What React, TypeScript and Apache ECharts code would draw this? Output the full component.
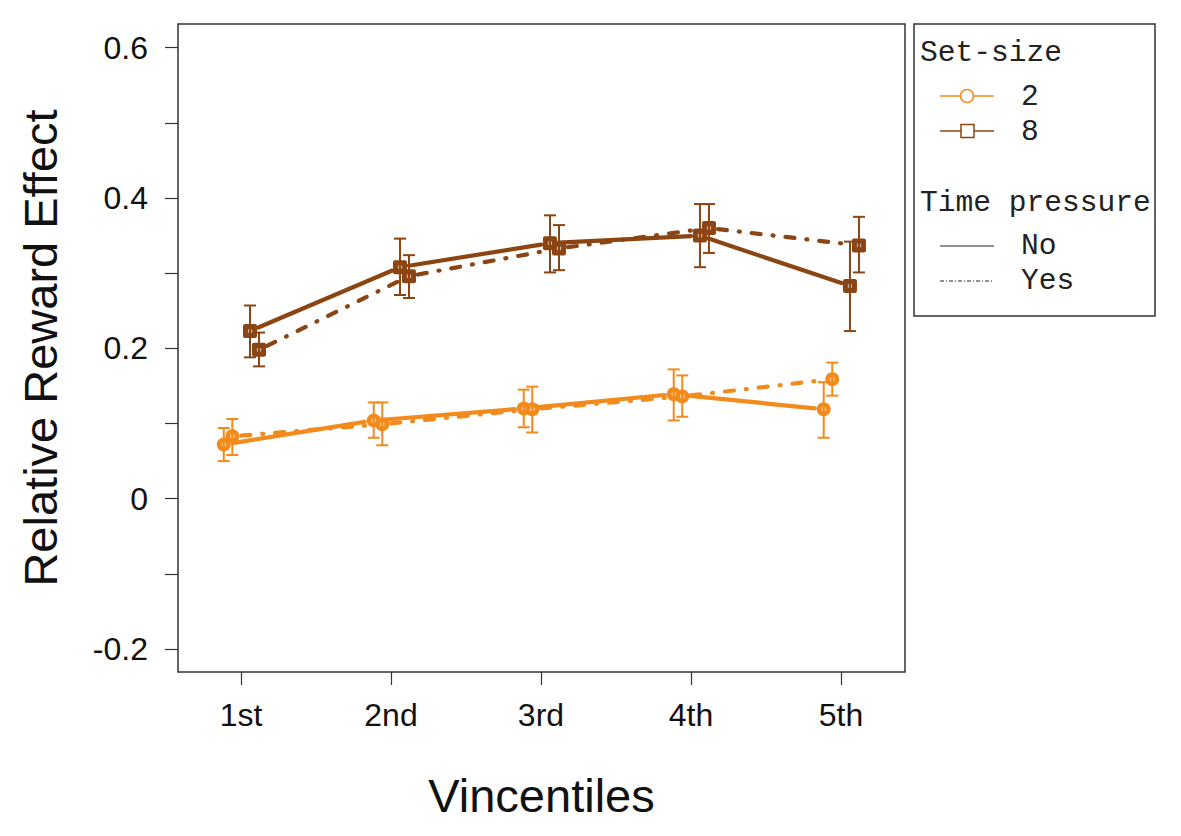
import React, { useEffect, useRef } from "react";
import * as echarts from "echarts";

const xCategories = ["1st", "2nd", "3rd", "4th", "5th"];
const xPositions = [1, 2, 3, 4, 5];
const yLabelTicks = [-0.2, 0, 0.2, 0.4, 0.6];
const yAllTicks = [-0.2, -0.1, 0, 0.1, 0.2, 0.3, 0.4, 0.5, 0.6];

// Set-size 2, no time pressure
const ss2NoMean = [0.072, 0.104, 0.12, 0.139, 0.119];
const ss2NoLow = [0.05, 0.081, 0.095, 0.104, 0.081];
const ss2NoHigh = [0.094, 0.128, 0.145, 0.172, 0.155];
// Set-size 2, time pressure
const ss2YesMean = [0.083, 0.099, 0.119, 0.136, 0.159];
const ss2YesLow = [0.058, 0.071, 0.088, 0.109, 0.137];
const ss2YesHigh = [0.106, 0.128, 0.149, 0.164, 0.181];
// Set-size 8, no time pressure
const ss8NoMean = [0.223, 0.308, 0.34, 0.35, 0.283];
const ss8NoLow = [0.188, 0.271, 0.301, 0.308, 0.223];
const ss8NoHigh = [0.257, 0.346, 0.377, 0.392, 0.342];
// Set-size 8, time pressure
const ss8YesMean = [0.198, 0.296, 0.333, 0.36, 0.337];
const ss8YesLow = [0.176, 0.267, 0.304, 0.327, 0.301];
const ss8YesHigh = [0.221, 0.324, 0.364, 0.392, 0.375];

const ORANGE = "#F28A1C";
const BROWN = "#8B4513";

type Group = {
  name: string;
  mean: number[];
  low: number[];
  high: number[];
  color: string;
  dashed: boolean;
  shape: "circle" | "square";
  offset: number;
};

const groups: Group[] = [
  { name: "2 / No", mean: ss2NoMean, low: ss2NoLow, high: ss2NoHigh, color: ORANGE, dashed: false, shape: "circle", offset: -0.115 },
  { name: "2 / Yes", mean: ss2YesMean, low: ss2YesLow, high: ss2YesHigh, color: ORANGE, dashed: true, shape: "circle", offset: -0.058 },
  { name: "8 / No", mean: ss8NoMean, low: ss8NoLow, high: ss8NoHigh, color: BROWN, dashed: false, shape: "square", offset: 0.06 },
  { name: "8 / Yes", mean: ss8YesMean, low: ss8YesLow, high: ss8YesHigh, color: BROWN, dashed: true, shape: "square", offset: 0.12 },
];

function lineSeries(g: Group): any {
  const data: number[][] = [];
  for (let i = 0; i < g.mean.length - 1; i++) {
    data.push([xPositions[i] + g.offset, g.mean[i], xPositions[i + 1] + g.offset, g.mean[i + 1]]);
  }
  return {
    type: "custom",
    name: g.name + " line",
    data,
    encode: { x: [0, 2], y: [1, 3] },
    renderItem: (params: any, api: any) => {
      const p1 = api.coord([api.value(0), api.value(1)]);
      const p2 = api.coord([api.value(2), api.value(3)]);
      const dx = p2[0] - p1[0];
      const dy = p2[1] - p1[1];
      const len = Math.hypot(dx, dy);
      const gap = 9;
      const ux = dx / len;
      const uy = dy / len;
      return {
        type: "line",
        shape: { x1: p1[0] + ux * gap, y1: p1[1] + uy * gap, x2: p2[0] - ux * gap, y2: p2[1] - uy * gap },
        style: {
          stroke: g.color,
          lineWidth: 4.2,
          lineCap: "round",
          lineDash: g.dashed ? [9, 12, 1, 12] : null,
        },
      };
    },
  };
}

function pointSeries(g: Group): any {
  const data = g.mean.map((m, i) => [xPositions[i] + g.offset, m, g.low[i], g.high[i]]);
  return {
    type: "custom",
    name: g.name + " points",
    data,
    z: 5,
    encode: { x: 0, y: [1, 2, 3] },
    renderItem: (params: any, api: any) => {
      const x = api.value(0);
      const c = api.coord([x, api.value(1)]);
      const lo = api.coord([x, api.value(2)]);
      const hi = api.coord([x, api.value(3)]);
      const cap = 6;
      const es = { stroke: g.color, lineWidth: 2 };
      const children: any[] = [
        { type: "line", shape: { x1: lo[0], y1: lo[1], x2: hi[0], y2: hi[1] }, style: es },
        { type: "line", shape: { x1: lo[0] - cap, y1: lo[1], x2: lo[0] + cap, y2: lo[1] }, style: es },
        { type: "line", shape: { x1: hi[0] - cap, y1: hi[1], x2: hi[0] + cap, y2: hi[1] }, style: es },
      ];
      if (g.shape === "circle") {
        children.push({ type: "circle", shape: { cx: c[0], cy: c[1], r: 7 }, style: { fill: g.color } });
      } else {
        children.push({ type: "rect", shape: { x: c[0] - 7, y: c[1] - 7, width: 14, height: 14, r: 2 }, style: { fill: g.color } });
      }
      const ws = { stroke: "#ffffff", lineWidth: 0.8, opacity: 0.85 };
      children.push({ type: "line", shape: { x1: c[0] - 1.6, y1: c[1] - 1.8, x2: c[0] - 1.6, y2: c[1] + 1.8 }, style: ws });
      children.push({ type: "line", shape: { x1: c[0] + 1.6, y1: c[1] - 1.8, x2: c[0] + 1.6, y2: c[1] + 1.8 }, style: ws });
      return { type: "group", children };
    },
  };
}

const MONO = "'Liberation Mono', 'DejaVu Sans Mono', monospace";
const SANS = "'Liberation Sans', Arial, sans-serif";

function legendGraphics(): any[] {
  const txt = (text: string, x: number, y: number) => ({
    type: "text",
    x,
    y,
    style: { text, fontFamily: MONO, fontSize: 29.6, fill: "#222", verticalAlign: "middle", align: "left" },
  });
  return [
    { type: "rect", shape: { x: 914, y: 24, width: 241, height: 292 }, style: { fill: "#fff", stroke: "#333", lineWidth: 1.5 } },
    txt("Set-size", 920, 53),
    { type: "line", shape: { x1: 940, y1: 96, x2: 994, y2: 96 }, style: { stroke: ORANGE, lineWidth: 1.5 } },
    { type: "circle", shape: { cx: 967, cy: 96, r: 6.5 }, style: { fill: "#fff", stroke: ORANGE, lineWidth: 1.5 } },
    txt("2", 1021, 97),
    { type: "line", shape: { x1: 940, y1: 131, x2: 994, y2: 131 }, style: { stroke: BROWN, lineWidth: 1.5 } },
    { type: "rect", shape: { x: 961, y: 124.5, width: 13, height: 13 }, style: { fill: "#fff", stroke: BROWN, lineWidth: 1.5 } },
    txt("8", 1021, 132),
    txt("Time pressure", 920, 203),
    { type: "line", shape: { x1: 940, y1: 246, x2: 994, y2: 246 }, style: { stroke: "#222", lineWidth: 1.2 } },
    txt("No", 1021, 246),
    { type: "line", shape: { x1: 940, y1: 281, x2: 994, y2: 281 }, style: { stroke: "#222", lineWidth: 1, lineDash: [4, 2, 1, 2] } },
    txt("Yes", 1021, 281),
  ];
}

export default function App() {
  const ref = useRef<HTMLDivElement>(null);
  useEffect(() => {
    document.body.style.margin = "0";
    if (!ref.current) return;
    const chart = echarts.init(ref.current, null, { renderer: "svg" });
    const series: any[] = [];
    groups.forEach((g) => series.push(lineSeries(g)));
    groups.forEach((g) => series.push(pointSeries(g)));
    chart.setOption({
      animation: false,
      backgroundColor: "#ffffff",
      grid: { left: 178, right: 276, top: 24, bottom: 164, show: true, borderColor: "#333", borderWidth: 1.5, backgroundColor: "transparent" },
      xAxis: {
        type: "value",
        position: "bottom",
        min: 0.58,
        max: 5.427,
        name: "Vincentiles",
        nameLocation: "middle",
        nameGap: 100,
        nameTextStyle: { fontFamily: SANS, fontSize: 47, color: "#111" },
        splitLine: { show: false },
        axisLine: { show: false, onZero: false },
        axisTick: { show: true, customValues: xPositions, length: 13, lineStyle: { color: "#333", width: 1.2 } },
        axisLabel: {
          customValues: xPositions,
          formatter: (v: number) => xCategories[Math.round(v) - 1] ?? "",
          fontFamily: SANS,
          fontSize: 32,
          color: "#111",
          margin: 27,
        },
      },
      yAxis: {
        type: "value",
        position: "left",
        min: -0.2307,
        max: 0.6316,
        name: "Relative Reward Effect",
        nameLocation: "middle",
        nameRotate: 90,
        nameGap: 114,
        nameTextStyle: { fontFamily: SANS, fontSize: 47, color: "#111" },
        splitLine: { show: false },
        axisLine: { show: false, onZero: false },
        axisTick: { show: true, customValues: yAllTicks, length: 13, lineStyle: { color: "#333", width: 1.2 } },
        axisLabel: {
          customValues: yLabelTicks,
          formatter: (v: number) => (Math.abs(v) < 1e-9 ? "0" : String(Math.round(v * 10) / 10)),
          fontFamily: SANS,
          fontSize: 32,
          color: "#111",
          margin: 30,
        },
      },
      series,
      graphic: legendGraphics(),
    });
    return () => chart.dispose();
  }, []);
  return <div ref={ref} style={{ width: 1181, height: 836 }} />;
}
